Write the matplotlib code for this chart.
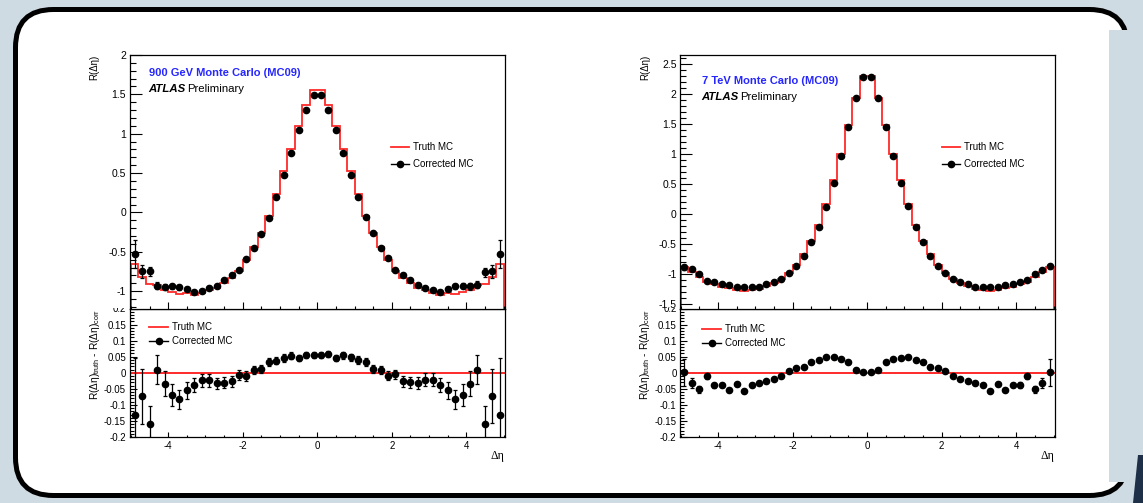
import numpy as np
import matplotlib
matplotlib.use('Agg')
import matplotlib.pyplot as plt
from matplotlib.patches import FancyBboxPatch, Rectangle, Polygon
from matplotlib.lines import Line2D
from matplotlib.ticker import MultipleLocator, FuncFormatter
from matplotlib.transforms import IdentityTransform

plt.rcParams['font.family'] = ['Liberation Sans', 'DejaVu Sans']
plt.rcParams['axes.unicode_minus'] = False
plt.rcParams['mathtext.fontset'] = 'custom'
plt.rcParams['mathtext.rm'] = 'Liberation Sans'
plt.rcParams['mathtext.it'] = 'Liberation Sans:italic'

W, H = 1143, 503

# --- DONNEES ---
eta_edges = np.linspace(-5, 5, 51)
eta = 0.5 * (eta_edges[:-1] + eta_edges[1:])

# 900 GeV
truth_900 = [-0.66, -0.82, -0.91, -0.92, -0.98, -1.01, -1.03, -1.02, -1.05, -1.02,
             -0.98, -0.96, -0.89, -0.83, -0.74, -0.60, -0.44, -0.26, -0.04, 0.23,
             0.53, 0.81, 1.10, 1.36, 1.55, 1.55, 1.36, 1.10, 0.81, 0.53,
             0.23, -0.04, -0.26, -0.44, -0.60, -0.74, -0.83, -0.89, -0.96, -0.98,
             -1.02, -1.05, -1.02, -1.03, -1.01, -0.98, -0.92, -0.91, -0.82, -0.66]
corr_900 = [-0.53, -0.75, -0.75, -0.93, -0.95, -0.94, -0.95, -0.97, -1.01, -1.00,
            -0.96, -0.93, -0.86, -0.80, -0.73, -0.59, -0.45, -0.27, -0.07, 0.19,
            0.48, 0.75, 1.05, 1.30, 1.49, 1.49, 1.30, 1.05, 0.76, 0.48,
            0.19, -0.06, -0.26, -0.45, -0.58, -0.73, -0.79, -0.86, -0.92, -0.96,
            -0.99, -1.01, -0.97, -0.94, -0.93, -0.94, -0.92, -0.76, -0.75, -0.53]
diff_900 = [-0.130, -0.073, -0.160, 0.010, -0.034, -0.069, -0.083, -0.055, -0.039, -0.023,
            -0.023, -0.033, -0.031, -0.026, -0.007, -0.010, 0.009, 0.011, 0.033, 0.038,
            0.046, 0.053, 0.046, 0.056, 0.055, 0.056, 0.058, 0.046, 0.055, 0.048,
            0.040, 0.033, 0.012, 0.009, -0.009, -0.005, -0.026, -0.030, -0.032, -0.022,
            -0.022, -0.038, -0.055, -0.083, -0.069, -0.034, 0.010, -0.160, -0.072, -0.130]
err_900 = [0.176, 0.085, 0.056, 0.045, 0.039, 0.033, 0.029, 0.026, 0.022, 0.020,
           0.020, 0.018, 0.018, 0.017, 0.015, 0.015, 0.013, 0.013, 0.012, 0.012,
           0.011, 0.011, 0.010, 0.010, 0.010, 0.010, 0.010, 0.010, 0.011, 0.011,
           0.012, 0.012, 0.013, 0.013, 0.015, 0.015, 0.017, 0.018, 0.018, 0.020,
           0.020, 0.022, 0.026, 0.029, 0.033, 0.039, 0.045, 0.056, 0.085, 0.176]

# 7 TeV
truth_7 = [-0.88, -0.96, -1.05, -1.12, -1.17, -1.21, -1.23, -1.26, -1.27, -1.26,
           -1.24, -1.20, -1.15, -1.08, -0.98, -0.85, -0.67, -0.44, -0.18, 0.17,
           0.57, 1.01, 1.49, 1.94, 2.30, 2.30, 1.94, 1.49, 1.01, 0.57,
           0.17, -0.18, -0.44, -0.67, -0.85, -0.98, -1.08, -1.15, -1.20, -1.24,
           -1.26, -1.27, -1.26, -1.23, -1.21, -1.17, -1.12, -1.05, -0.96, -0.88]
corr_7 = [-0.88, -0.92, -1.00, -1.11, -1.13, -1.17, -1.18, -1.22, -1.21, -1.22,
          -1.21, -1.17, -1.12, -1.07, -0.98, -0.86, -0.70, -0.47, -0.22, 0.12,
          0.52, 0.97, 1.46, 1.93, 2.29, 2.29, 1.93, 1.46, 0.97, 0.52,
          0.13, -0.21, -0.47, -0.69, -0.86, -0.98, -1.07, -1.13, -1.17, -1.21,
          -1.21, -1.21, -1.22, -1.18, -1.17, -1.12, -1.10, -1.00, -0.93, -0.87]
diff_7 = [0.002, -0.032, -0.052, -0.011, -0.039, -0.037, -0.054, -0.036, -0.058, -0.038,
          -0.033, -0.027, -0.018, -0.009, 0.005, 0.014, 0.019, 0.032, 0.040, 0.048,
          0.048, 0.043, 0.032, 0.010, 0.002, 0.002, 0.010, 0.032, 0.043, 0.047,
          0.048, 0.040, 0.032, 0.019, 0.014, 0.005, -0.009, -0.018, -0.027, -0.033,
          -0.038, -0.057, -0.036, -0.053, -0.037, -0.038, -0.011, -0.052, -0.031, 0.002]
err_7 = [0.042, 0.015, 0.012, 0.010, 0.008, 0.006, 0.005, 0.005, 0.005, 0.005,
         0.004, 0.004, 0.004, 0.004, 0.004, 0.004, 0.004, 0.004, 0.004, 0.004,
         0.004, 0.004, 0.004, 0.004, 0.004, 0.004, 0.004, 0.004, 0.004, 0.004,
         0.004, 0.004, 0.004, 0.004, 0.004, 0.004, 0.004, 0.004, 0.004, 0.004,
         0.005, 0.005, 0.005, 0.005, 0.006, 0.008, 0.010, 0.012, 0.015, 0.042]


def fbox(x0, y0, x1, y1):
    # pixels (origine en haut a gauche) -> fraction de figure
    return [x0 / W, 1 - y1 / H, (x1 - x0) / W, (y1 - y0) / H]


fmt = FuncFormatter(lambda v, p: '%g' % round(v, 3))

BG = '#cedbe3'
fig = plt.figure(figsize=(W / 100, H / 100), dpi=100, facecolor=BG)

# cadre blanc arrondi
fig.add_artist(FancyBboxPatch((15.5, H - 495.5), 1112, 486, boxstyle='round,pad=0,rounding_size=38',
                              transform=IdentityTransform(), facecolor='white', edgecolor='black',
                              linewidth=3.6, zorder=0))
fig.add_artist(Rectangle((1109, H - 482), 40, 452, transform=IdentityTransform(),
                         facecolor=BG, edgecolor='none', zorder=0.5))
fig.add_artist(Polygon([(1138, H - 455), (1143, H - 455), (1143, 0), (1133, 0)],
                       transform=IdentityTransform(), facecolor='#1e3048', edgecolor='none', zorder=0.6))

RED = '#ff2a2a'


def panel(x0, x1, xlim, ylim, truth, corr, err, diff, title, ty, px, leg_main, leg_ratio):
    ax = fig.add_axes(fbox(x0, 55, x1, 308.5), zorder=2)
    ar = fig.add_axes(fbox(x0, 308.5, x1, 437), zorder=1)
    # cache le haut du label 0.2
    fig.add_artist(Rectangle(((x0 - 50), H - 308), 49, 10, transform=IdentityTransform(),
                             facecolor='white', edgecolor='none', zorder=1.5))

    ax.stairs(truth, eta_edges, baseline=ylim[0], color=RED, lw=1.3)
    ax.errorbar(eta, corr, yerr=err, fmt='o', color='black', ms=4.5, elinewidth=0.9,
                capsize=1.2, capthick=0.9)
    ax.set_xlim(*xlim)
    ax.set_ylim(*ylim)
    ax.xaxis.set_major_locator(MultipleLocator(2))
    ax.xaxis.set_minor_locator(MultipleLocator(0.5))
    ax.yaxis.set_major_locator(MultipleLocator(0.5))
    ax.yaxis.set_minor_locator(MultipleLocator(0.1))
    ax.yaxis.set_major_formatter(fmt)
    ax.tick_params(axis='x', which='both', direction='in', labelbottom=False)
    ax.tick_params(axis='x', which='major', length=5, width=0.8)
    ax.tick_params(axis='x', which='minor', length=2.5, width=0.8)
    ax.tick_params(axis='y', which='both', direction='in', labelsize=7.5, pad=2.5)
    ax.tick_params(axis='y', which='major', length=8.6, width=0.8)
    ax.tick_params(axis='y', which='minor', length=4.3, width=0.8)

    ar.axhline(0, color=RED, lw=1.4)
    ar.errorbar(eta, diff, yerr=err, fmt='o', color='black', ms=4.5, elinewidth=0.9,
                capsize=1.2, capthick=0.9)
    ar.set_xlim(*xlim)
    ar.set_ylim(-0.2, 0.2)
    ar.xaxis.set_major_locator(MultipleLocator(2))
    ar.xaxis.set_minor_locator(MultipleLocator(0.5))
    ar.yaxis.set_major_locator(MultipleLocator(0.05))
    ar.yaxis.set_minor_locator(MultipleLocator(0.01))
    ar.yaxis.set_major_formatter(fmt)
    ar.xaxis.set_major_formatter(fmt)
    ar.tick_params(axis='both', which='both', direction='in', labelsize=7, pad=2.5)
    ar.tick_params(axis='x', which='major', length=3.6, width=0.8, pad=3)
    ar.tick_params(axis='x', which='minor', length=1.8, width=0.8)
    ar.tick_params(axis='y', which='major', length=5, width=0.8)
    ar.tick_params(axis='y', which='minor', length=2.9, width=0.8)

    for a in (ax, ar):
        for s in a.spines.values():
            s.set_linewidth(0.9)

    h_truth = Line2D([], [], color=RED, lw=1.3)
    h_corr = Line2D([], [], color='black', lw=1, marker='o', ms=4.5)
    ax.legend([h_truth, h_corr], ['Truth MC', 'Corrected MC'], loc='upper left',
              bbox_to_anchor=(leg_main[0] / W, 1 - leg_main[1] / H), bbox_transform=fig.transFigure,
              frameon=False, fontsize=7, handlelength=1.9, handletextpad=0.4, labelspacing=0.75,
              borderpad=0, borderaxespad=0)
    ar.legend([h_truth, h_corr], ['Truth MC', 'Corrected MC'], loc='upper left',
              bbox_to_anchor=(leg_ratio[0] / W, 1 - leg_ratio[1] / H), bbox_transform=fig.transFigure,
              frameon=False, fontsize=7, handlelength=2.0, handletextpad=0.4, labelspacing=0.45,
              borderpad=0, borderaxespad=0)

    fig.text(px, H - ty, title, transform=IdentityTransform(), color='#2626ff', fontsize=8,
             fontweight='bold', va='center', ha='left')
    fig.text(px - 1, H - ty - 15.5, 'ATLAS', transform=IdentityTransform(), fontsize=8.2,
             fontweight='bold', style='italic', va='center', ha='left')
    fig.text(px + 38.5, H - ty - 15.5, 'Preliminary', transform=IdentityTransform(), fontsize=8.2,
             va='center', ha='left')

    fig.text((x0 - 35) / W, 1 - 55 / H, 'R(Δη)', rotation=90, fontsize=7, ha='center', va='top')
    fig.text((x0 - 35) / W, 1 - 309 / H, r'R(Δη)$_{\rm truth}$ - R(Δη)$_{\rm corr}$', rotation=90,
             fontsize=7.3, ha='center', va='top')
    fig.text((x1 - 8) / W, 1 - 456 / H, 'Δη', fontsize=8.5, family=['Liberation Serif', 'DejaVu Serif'],
             ha='center', va='center')


panel(129.5, 505, (-5.04, 5.04), (-1.22, 2.0), truth_900, corr_900, err_900, diff_900,
      '900 GeV Monte Carlo (MC09)', 73, 149, (391, 142), (149, 322))
panel(680, 1055, (-5.02, 5.04), (-1.57, 2.655), truth_7, corr_7, err_7, diff_7,
      '7 TeV Monte Carlo (MC09)', 81, 702, (942, 142), (702, 324))

fig.savefig('out.png', dpi=100, facecolor=fig.get_facecolor())
